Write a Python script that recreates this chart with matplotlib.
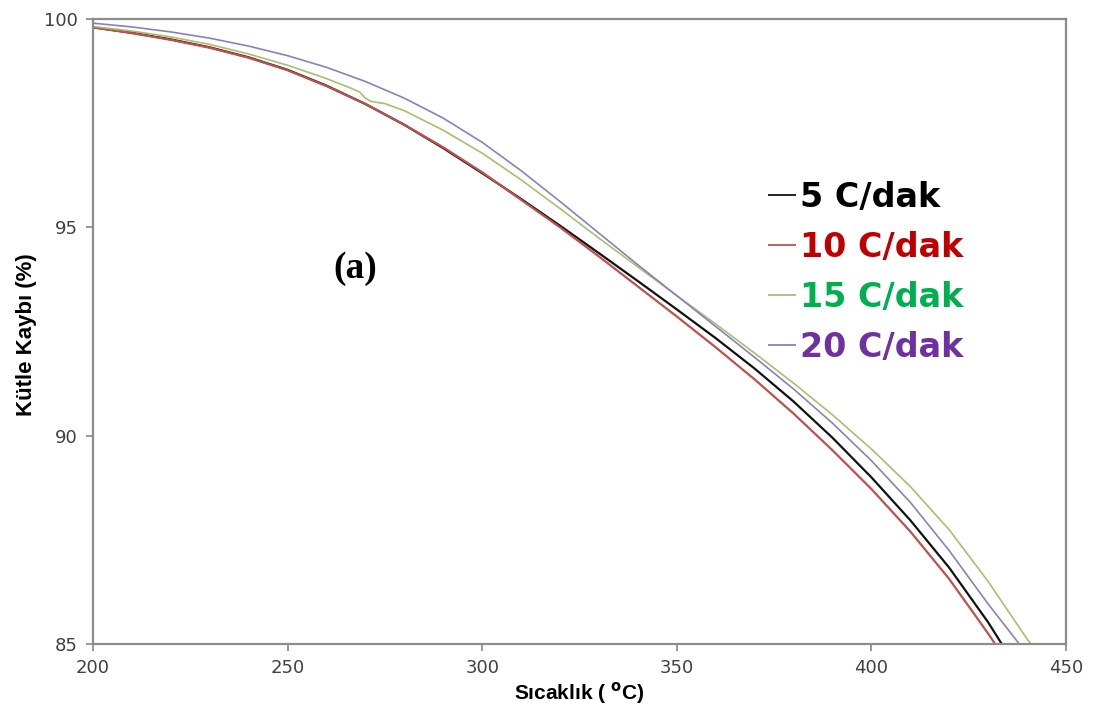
import matplotlib
matplotlib.use("Agg")
import matplotlib.pyplot as plt

# ---- data ----
temp_5 = [200, 210, 220, 230, 240, 250, 260, 270, 280, 290, 300, 310, 320, 330, 340,
          350, 360, 370, 380, 390, 400, 410, 420, 430, 433.5]
mass_5 = [99.80, 99.67, 99.51, 99.32, 99.08, 98.78, 98.40, 97.96, 97.46, 96.90, 96.30,
          95.68, 95.04, 94.38, 93.71, 93.03, 92.34, 91.61, 90.82, 89.95, 89.00, 87.97,
          86.83, 85.52, 85.00]

temp_10 = [200, 210, 220, 230, 240, 250, 260, 270, 280, 290, 300, 310, 320, 330, 340,
           350, 360, 370, 380, 390, 400, 410, 420, 430, 431.8]
mass_10 = [99.80, 99.66, 99.50, 99.31, 99.07, 98.77, 98.39, 97.96, 97.46, 96.92, 96.32,
           95.66, 95.00, 94.30, 93.58, 92.86, 92.12, 91.35, 90.53, 89.65, 88.72, 87.70,
           86.56, 85.25, 85.00]

temp_15 = [200, 210, 220, 230, 240, 250, 260, 266, 268.5, 270, 271.5, 275, 280, 290, 300,
           310, 320, 330, 340, 350, 360, 370, 380, 390, 400, 410, 420, 430, 440, 441.0]
mass_15 = [99.82, 99.71, 99.57, 99.39, 99.16, 98.89, 98.57, 98.35, 98.25, 98.10, 98.02,
           97.97, 97.80, 97.33, 96.78, 96.14, 95.45, 94.74, 94.05, 93.36, 92.68, 91.98,
           91.26, 90.50, 89.68, 88.78, 87.74, 86.50, 85.12, 85.00]

temp_20 = [200, 210, 220, 230, 240, 250, 260, 270, 280, 290, 300, 310, 320, 330, 340,
           350, 360, 370, 380, 390, 400, 410, 420, 430, 438]
mass_20 = [99.90, 99.81, 99.69, 99.54, 99.35, 99.12, 98.84, 98.50, 98.10, 97.62, 97.04,
           96.36, 95.62, 94.86, 94.10, 93.36, 92.62, 91.88, 91.12, 90.30, 89.40, 88.40,
           87.24, 85.96, 85.00]

labels = ["5 C/dak", "10 C/dak", "15 C/dak", "20 C/dak"]
x_ticks = [200, 250, 300, 350, 400, 450]
y_ticks = [85, 90, 95, 100]

line_colors = ["#111111", "#c0504d", "#a8bf6e", "#8a80bf"]
text_colors = ["#000000", "#c00000", "#00b050", "#7030a0"]
line_widths = [1.6, 1.6, 1.2, 1.2]

plt.rcParams['font.family'] = ['Liberation Sans', 'DejaVu Sans']

fig = plt.figure(figsize=(10.93, 7.18), dpi=100)
ax = fig.add_axes([93 / 1093, 1 - 644 / 718, (1066 - 93) / 1093, (644 - 19) / 718])

series = [(temp_5, mass_5), (temp_10, mass_10), (temp_15, mass_15), (temp_20, mass_20)]
for (t, m), lab, c, lw in zip(series, labels, line_colors, line_widths):
    ax.plot(t, m, color=c, lw=lw, label=lab, solid_capstyle='butt')

ax.set_xlim(200, 450)
ax.set_ylim(85, 100)
ax.set_xticks(x_ticks)
ax.set_yticks(y_ticks)
ax.tick_params(axis='both', direction='out', length=5, width=1.2, color='#868686',
               labelsize=13, labelcolor='#404040', pad=6)
for lbl in ax.get_xticklabels() + ax.get_yticklabels():
    lbl.set_family('DejaVu Sans')
for s in ax.spines.values():
    s.set_color('#8c8c8c')
    s.set_linewidth(1.6)

ax.set_xlabel("Sıcaklık ( $\\mathbf{^{o}}$C)", fontsize=15, fontweight='bold', labelpad=2)
ax.set_ylabel("Kütle Kaybı (%)", fontsize=16, fontweight='bold', va='center')
ax.yaxis.set_label_coords((27 - 93) / 973, (644 - 335) / 625)

fig.text(355 / 1093, 1 - 268 / 718, "(a)", family='Liberation Serif', fontweight='bold',
         fontsize=27, ha='center', va='center')

leg = fig.legend(loc='upper left', bbox_to_anchor=(768 / 1093, 1 - 181 / 718),
                 frameon=False, handlelength=0.85, handletextpad=0.1, labelspacing=0.51,
                 borderpad=0, borderaxespad=0,
                 prop={'family': 'DejaVu Sans', 'weight': 'bold', 'size': 24})
for txt, c in zip(leg.get_texts(), text_colors):
    txt.set_color(c)
for h in leg.get_lines():
    h.set_linewidth(1.3)

fig.savefig("out.png", dpi=100)
